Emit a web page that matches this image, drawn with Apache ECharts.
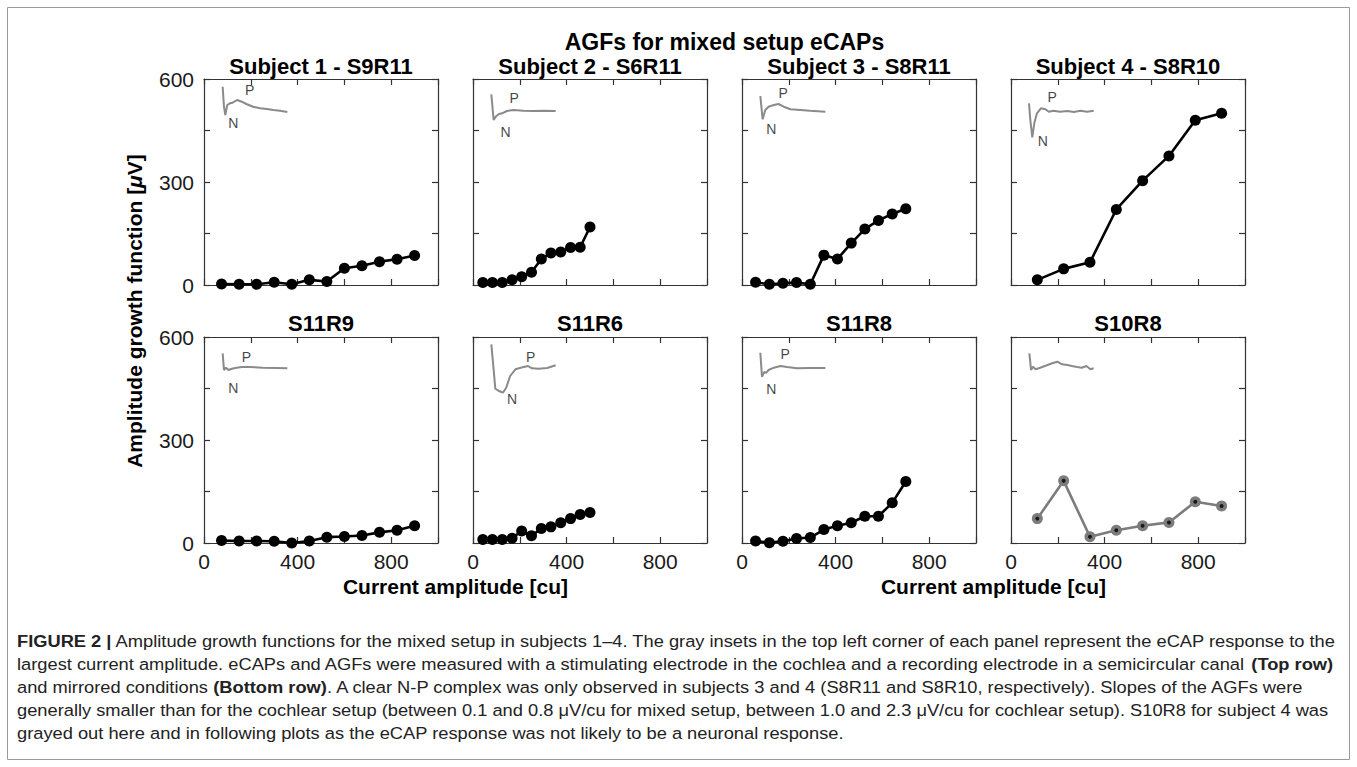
<!DOCTYPE html>
<html><head><meta charset="utf-8">
<script src="https://cdn.jsdelivr.net/npm/echarts@6/dist/echarts.min.js"></script>
<style>html,body{margin:0;padding:0;background:#fff}#c{width:1357px;height:767px}</style>
</head><body><div id="c"></div>
<script>
// ---------- data ----------
const mainTitle = 'AGFs for mixed setup eCAPs';
const panelTitles = ['Subject 1 - S9R11','Subject 2 - S6R11','Subject 3 - S8R11','Subject 4 - S8R10','S11R9','S11R6','S11R8','S10R8'];
const xTickLabels = ['0','400','800'];
const yTickLabels = ['0','300','600'];
const xAxisTitle = 'Current amplitude [cu]';
const yAxisTitle = 'Amplitude growth function [{i|μ}V]';

// current amplitudes [cu]
const xSubj1 = [75,150,225,300,375,450,525,600,675,750,825,900];
const xSubj2 = [42,83,125,167,208,250,292,333,375,417,458,500];
const xSubj3 = [58,117,175,233,292,350,408,467,525,583,642,700];
const xSubj4 = [112.5,225,337.5,450,562.5,675,787.5,900];
// amplitudes [µV]
const yS9R11 = [3,2,2,8,2,15,10,49,56,68,75,86];
const yS6R11 = [7,7,7,15,24,37,76,93,96,109,110,169];
const yS8R11 = [8,2,5,7,2,87,76,122,163,188,207,222];
const yS8R10 = [15,47,66,220,304,376,480,500];
const yS11R9 = [7,6,6,5,0,6,17,19,22,31,37,50];
const yS11R6 = [10,10,10,14,35,21,42,47,59,71,83,89];
const yS11R8 = [6,1,5,13,16,39,50,59,78,78,117,179];
const yS10R8 = [71,181,18,37,50,60,120,108];

// inset eCAP waveforms [normalised time, arbitrary amplitude]
const waveS9R11 = [[0.01,32.3],[0.03,12.3],[0.05,4],[0.08,14],[0.12,15.7],[0.16,16.3],[0.23,19],[0.30,17.3],[0.37,15],[0.47,12.3],[0.58,10.7],[0.68,10],[0.78,9],[0.88,8.3],[0.99,7]];
const waveS6R11 = [[0.005,24.7],[0.04,-1],[0.07,2.3],[0.12,5],[0.17,5.7],[0.24,8],[0.34,9],[0.49,8.3],[0.64,8],[0.80,8.3],[0.98,8]];
const waveS8R11 = [[0.005,23],[0.04,-0.3],[0.08,9],[0.13,12.3],[0.21,14],[0.28,15],[0.36,12.3],[0.46,9.7],[0.61,9],[0.76,8.3],[0.99,7.3]];
const waveS8R10 = [[0,15.7],[0.02,-1],[0.05,-18.3],[0.08,-4.3],[0.12,5.7],[0.18,10.7],[0.25,9.7],[0.30,7.3],[0.37,8.3],[0.47,7.3],[0.58,8],[0.68,7],[0.78,8.3],[0.88,7.3],[0.98,8.3]];
const waveS11R9 = [[0.01,23.7],[0.03,7],[0.06,9.3],[0.10,7],[0.15,8.3],[0.22,9.3],[0.30,10],[0.42,10],[0.62,9.3],[0.83,9],[0.99,8.7]];
const waveS11R6 = [[0.005,32.7],[0.04,7.7],[0.065,-11.7],[0.12,-14],[0.18,-15.7],[0.23,-10.7],[0.29,1],[0.37,7.7],[0.45,9.3],[0.56,11],[0.62,8.7],[0.72,8.3],[0.85,9],[0.98,11.7]];
const waveS11R8 = [[0.005,24.3],[0.03,0.3],[0.065,5],[0.095,4.3],[0.13,7],[0.21,9.3],[0.31,11],[0.41,10],[0.56,8.7],[0.76,9],[0.99,9]];
const waveS10R8 = [[0.005,23.7],[0.02,14.3],[0.03,7],[0.06,10.3],[0.10,7.7],[0.17,9.3],[0.27,11.7],[0.35,13.7],[0.43,15.3],[0.50,12.7],[0.58,12],[0.65,11],[0.73,10],[0.80,9.3],[0.87,11],[0.93,7.7],[0.98,8.7]];
// N / P annotations of the insets
const npS9R11 = [[0.42,29,'P'],[0.17,-4.3,'N']];
const npS6R11 = [[0.35,20.7,'P'],[0.22,-12.7,'N']];
const npS8R11 = [[0.35,25.7,'P'],[0.17,-10.3,'N']];
const npS8R10 = [[0.35,21.7,'P'],[0.21,-21.7,'N']];
const npS11R9 = [[0.37,20.3,'P'],[0.17,-10.7,'N']];
const npS11R6 = [[0.60,20.3,'P'],[0.32,-22.3,'N']];
const npS11R8 = [[0.38,22.7,'P'],[0.17,-11.7,'N']];
const npS10R8 = [];

const captionLines = [
  '{b|FIGURE 2 |} Amplitude growth functions for the mixed setup in subjects 1–4. The gray insets in the top left corner of each panel represent the eCAP response to the',
  'largest current amplitude. eCAPs and AGFs were measured with a stimulating electrode in the cochlea and a recording electrode in a semicircular canal {b|(Top row)}',
  'and mirrored conditions {b|(Bottom row)}. A clear N-P complex was only observed in subjects 3 and 4 (S8R11 and S8R10, respectively). Slopes of the AGFs were',
  'generally smaller than for the cochlear setup (between 0.1 and 0.8 μV/cu for mixed setup, between 1.0 and 2.3 μV/cu for cochlear setup). S10R8 for subject 4 was',
  'grayed out here and in following plots as the eCAP response was not likely to be a neuronal response.'
];

// ---------- layout ----------
const FONT = '"Liberation Sans", Arial, Helvetica, sans-serif';
const colLeft = [204, 473, 742, 1011], PW = 234, rowTop = [79, 337], PH = 206;
const titleY = [66, 323];
const AX = '#333333';

const panels = [
  {x: xSubj1, y: yS9R11, wave: waveS9R11, np: npS9R11},
  {x: xSubj2, y: yS6R11, wave: waveS6R11, np: npS6R11},
  {x: xSubj3, y: yS8R11, wave: waveS8R11, np: npS8R11},
  {x: xSubj4, y: yS8R10, wave: waveS8R10, np: npS8R10},
  {x: xSubj1, y: yS11R9, wave: waveS11R9, np: npS11R9},
  {x: xSubj2, y: yS11R6, wave: waveS11R6, np: npS11R6},
  {x: xSubj3, y: yS11R8, wave: waveS11R8, np: npS11R8},
  {x: xSubj4, y: yS10R8, wave: waveS10R8, np: npS10R8, gray: true}
];

const grid = [], xAxis = [], yAxis = [], series = [], graphic = [];
const axLine = {show: true, onZero: false, lineStyle: {color: AX, width: 1.2}};
const axTick = {show: true, inside: true, length: 6, lineStyle: {color: AX, width: 1.2}};
const lblBase = {fontFamily: FONT, fontSize: 21, color: '#1a1a1a'};

panels.forEach((p, i) => {
  const row = i < 4 ? 0 : 1, col = i % 4;
  const L = colLeft[col], T = rowTop[row];
  grid.push({left: L, top: T, width: PW, height: PH});
  const g = grid.length - 1;
  xAxis.push({type: 'value', gridIndex: g, position: 'bottom', min: 0, max: 1000, interval: 200,
    axisLine: axLine, axisTick: axTick, splitLine: {show: false},
    axisLabel: Object.assign({show: row === 1, margin: 8,
      formatter: v => xTickLabels.includes(String(v)) ? String(v) : ''}, lblBase)});
  const xb = xAxis.length - 1;
  xAxis.push({type: 'value', gridIndex: g, position: 'top', min: 0, max: 1000, interval: 200,
    axisLine: axLine, axisTick: axTick, splitLine: {show: false}, axisLabel: {show: false}});
  yAxis.push({type: 'value', gridIndex: g, position: 'left', min: 0, max: 600, interval: 150,
    axisLine: axLine, axisTick: axTick, splitLine: {show: false},
    axisLabel: Object.assign({show: col === 0, margin: 10,
      formatter: v => yTickLabels.includes(String(v)) ? String(v) : ''}, lblBase)});
  const yl = yAxis.length - 1;
  yAxis.push({type: 'value', gridIndex: g, position: 'right', min: 0, max: 600, interval: 150,
    axisLine: axLine, axisTick: axTick, splitLine: {show: false}, axisLabel: {show: false}});

  const col1 = p.gray ? '#7c7c7c' : '#000000';
  const pts = p.x.map((v, k) => [v, p.y[k]]);
  series.push({type: 'line', xAxisIndex: xb, yAxisIndex: yl, data: pts, symbol: 'circle',
    symbolSize: 11, clip: false, z: 3,
    lineStyle: {color: col1, width: 2.6}, itemStyle: {color: col1}});
  if (p.gray) {
    series.push({type: 'scatter', xAxisIndex: xb, yAxisIndex: yl, data: pts, symbolSize: 4,
      itemStyle: {color: '#000'}, z: 4});
  }

  // inset
  grid.push({left: L + 18, top: T + 5, width: 66, height: 60});
  const ig = grid.length - 1;
  xAxis.push({type: 'value', gridIndex: ig, min: 0, max: 1, show: false});
  yAxis.push({type: 'value', gridIndex: ig, min: -25, max: 35, show: false});
  series.push({type: 'line', xAxisIndex: xAxis.length - 1, yAxisIndex: yAxis.length - 1,
    data: p.wave, showSymbol: false, silent: true, clip: false, z: 2,
    lineStyle: {color: '#8a8a8a', width: 2}});
  if (p.np.length) {
    series.push({type: 'scatter', xAxisIndex: xAxis.length - 1, yAxisIndex: yAxis.length - 1,
      data: p.np, symbolSize: 1, itemStyle: {color: 'rgba(0,0,0,0)'}, silent: true, z: 2,
      label: {show: true, position: 'inside', formatter: d => d.value[2],
        fontFamily: FONT, fontSize: 14, color: '#111'}});
  }

  graphic.push({type: 'text', x: L + PW / 2, y: titleY[row],
    style: {text: panelTitles[i], font: 'bold 22px ' + FONT, fill: '#000',
      textAlign: 'center', textVerticalAlign: 'middle', align: 'center', verticalAlign: 'middle'}});
});

// frame
graphic.push({type: 'rect', shape: {x: 7.5, y: 7.5, width: 1342, height: 752},
  style: {fill: 'none', stroke: '#9a9a9a', lineWidth: 1}, z: -1});
// main title
graphic.push({type: 'text', x: (colLeft[0] + colLeft[3] + PW) / 2, y: 42,
  style: {text: mainTitle, font: 'bold 23px ' + FONT, fill: '#000',
    textAlign: 'center', textVerticalAlign: 'middle', align: 'center', verticalAlign: 'middle'}});
// x axis titles
[[colLeft[0], colLeft[1] + PW], [colLeft[2], colLeft[3] + PW]].forEach(([a, b]) => {
  graphic.push({type: 'text', x: (a + b) / 2, y: 586,
    style: {text: xAxisTitle, font: 'bold 21px ' + FONT, fill: '#000',
      textAlign: 'center', textVerticalAlign: 'middle', align: 'center', verticalAlign: 'middle'}});
});
// y axis title
graphic.push({type: 'text', x: 134, y: (rowTop[0] + rowTop[1] + PH) / 2, rotation: Math.PI / 2,
  style: {text: yAxisTitle, font: 'bold 21px ' + FONT, fill: '#000',
    textAlign: 'center', textVerticalAlign: 'middle', align: 'center', verticalAlign: 'middle',
    rich: {i: {font: 'bold italic 21px ' + FONT, fill: '#000'}}}});

// caption
const capFont = '17px ' + FONT, capBold = 'bold 17px ' + FONT;
const ctx = document.createElement('canvas').getContext('2d');
function lineWidth(s) {
  let w = 0;
  s.split(/(\{b\|[^}]*\})/).forEach(part => {
    const m = part.match(/^\{b\|([^}]*)\}$/);
    if (m) { ctx.font = capBold; w += ctx.measureText(m[1]).width; }
    else { ctx.font = capFont; w += ctx.measureText(part).width; }
  });
  return w;
}
const capScale = 1321 / lineWidth(captionLines[0]);
const capY = [641, 664, 687, 710, 733];
captionLines.forEach((t, k) => {
  graphic.push({type: 'text', x: 17, y: capY[k], scaleX: capScale,
    style: {text: t, font: capFont, fill: '#222',
      textAlign: 'left', textVerticalAlign: 'middle', align: 'left', verticalAlign: 'middle',
      rich: {b: {font: capBold, fill: '#222'}}}});
});

const chart = echarts.init(document.getElementById('c'), null, {renderer: 'svg'});
chart.setOption({animation: false, backgroundColor: '#fff', grid, xAxis, yAxis, series, graphic});
</script>
</body></html>
